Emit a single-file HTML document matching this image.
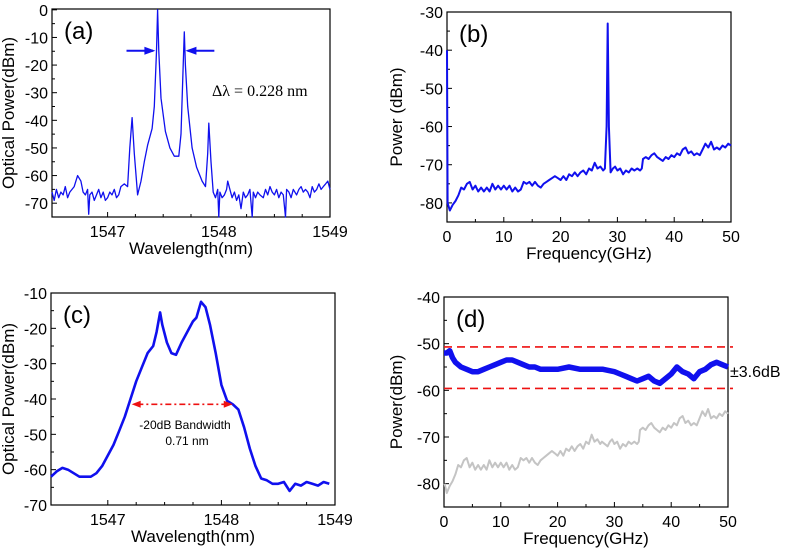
<!DOCTYPE html>
<html><head><meta charset="utf-8"><style>
html,body{margin:0;padding:0;background:#fff;}
svg{display:block;font-family:"Liberation Sans",Arial,sans-serif;}
</style></head><body>
<svg id="fig" width="787" height="550" viewBox="0 0 787 550" xmlns="http://www.w3.org/2000/svg"></svg>
<script>
const aWl=[1546.5,1546.52,1546.54,1546.56,1546.58,1546.6,1546.62,1546.64,1546.66,1546.68,1546.7,1546.73,1546.76,1546.78,1546.8,1546.82,1546.83,1546.84,1546.86,1546.88,1546.9,1546.92,1546.94,1546.96,1546.98,1547.0,1547.02,1547.04,1547.06,1547.08,1547.1,1547.12,1547.15,1547.18,1547.2,1547.22,1547.24,1547.27,1547.3,1547.33,1547.36,1547.4,1547.42,1547.44,1547.45,1547.46,1547.48,1547.52,1547.56,1547.6,1547.64,1547.66,1547.68,1547.69,1547.7,1547.72,1547.76,1547.8,1547.85,1547.88,1547.9,1547.91,1547.93,1547.95,1547.97,1547.99,1548.0,1548.01,1548.03,1548.05,1548.07,1548.08,1548.1,1548.12,1548.14,1548.16,1548.18,1548.2,1548.22,1548.24,1548.26,1548.28,1548.3,1548.31,1548.33,1548.35,1548.37,1548.4,1548.42,1548.44,1548.46,1548.48,1548.5,1548.52,1548.54,1548.56,1548.58,1548.6,1548.61,1548.63,1548.65,1548.67,1548.7,1548.72,1548.74,1548.76,1548.78,1548.8,1548.82,1548.84,1548.86,1548.88,1548.9,1548.92,1548.94,1548.96,1548.98,1549];
const aPow=[-66,-69,-65,-68,-66,-67,-64,-68,-66,-65,-64,-60,-62,-66,-67,-65,-74,-67,-66,-69,-67,-65,-68,-66,-69,-68,-66,-67,-65,-68,-67,-64,-63,-64,-50,-39,-52,-67,-62,-55,-49,-43,-35,-15,0,-15,-32,-44,-50,-53,-53,-45,-20,-8,-20,-35,-50,-57,-62,-64,-52,-41,-55,-66,-68,-65,-75,-66,-68,-67,-65,-62,-65,-68,-66,-69,-67,-72,-66,-68,-67,-65,-75,-66,-68,-66,-67,-68,-65,-67,-64,-66,-67,-65,-68,-66,-67,-75,-65,-66,-68,-65,-67,-65,-64,-66,-65,-66,-68,-64,-66,-65,-63,-65,-64,-63,-62,-65];
const bFreq=[0,0.1,0.5,1,1.5,2,2.5,3,3.5,4,4.5,5,5.5,6,6.5,7,7.5,8,8.5,9,9.5,10,10.5,11,11.5,12,12.5,13,13.5,14,14.5,15,15.5,16,16.5,17,17.5,18,18.5,19,19.5,20,20.5,21,21.5,22,22.5,23,23.5,24,24.5,25,25.5,26,26.5,27,27.5,27.8,28.1,28.3,28.5,28.8,29.2,29.6,30,30.5,31,31.5,32,32.5,33,33.5,34,34.3,34.5,35,35.5,36,36.5,37,37.5,38,38.5,39,39.5,40,40.5,41,41.5,42,42.5,43,43.5,44,44.5,45,45.5,46,46.5,47,47.5,48,48.5,49,49.5,50];
const bPow=[-40,-80,-82,-80.5,-79.5,-78,-76,-76.5,-75,-74.5,-76.5,-75.5,-77,-76,-77,-76,-77,-75,-76.5,-75.5,-76.5,-75.5,-76.5,-75.5,-77,-76,-77,-76.5,-74.5,-75,-74.5,-75.5,-74.5,-75.5,-76,-75,-74.5,-74,-73.5,-73,-73.5,-74,-73,-74,-72.5,-73,-72,-73,-72,-71.5,-72.5,-71,-71.5,-69.5,-71,-70.5,-71.5,-71,-60,-33,-60,-72,-71,-70.5,-71.5,-71,-72.5,-71.5,-72,-71,-71.5,-71,-71.5,-71,-68.5,-68,-68.5,-67.5,-67,-68,-68.5,-69,-68,-68.5,-67.5,-68,-67,-67.5,-66,-65.5,-67,-66.5,-67.5,-67,-67.5,-66,-64.5,-65.5,-64,-66,-65.5,-66,-65,-65.5,-64.5,-65];
const cWl=[1546.5,1546.55,1546.6,1546.65,1546.7,1546.75,1546.8,1546.85,1546.9,1546.95,1547.0,1547.05,1547.1,1547.15,1547.2,1547.25,1547.3,1547.35,1547.4,1547.43,1547.46,1547.48,1547.52,1547.56,1547.6,1547.65,1547.7,1547.75,1547.78,1547.82,1547.86,1547.9,1547.95,1548.0,1548.05,1548.1,1548.15,1548.2,1548.25,1548.3,1548.35,1548.4,1548.45,1548.5,1548.55,1548.6,1548.65,1548.7,1548.75,1548.8,1548.85,1548.9,1548.95];
const cPow=[-62,-60.5,-59.5,-60,-61,-62,-62,-62,-61,-59,-56,-53,-49,-45,-40,-35,-31,-27,-25,-21,-15.5,-19,-24,-27,-27.5,-24,-21,-18,-17,-12.5,-14,-19,-27,-36,-40.5,-41.5,-43,-48,-54,-59,-62.5,-63,-64,-64,-63.5,-66,-64,-64.5,-63.5,-64,-64.5,-63.5,-64];
const dFreq=[0,0.5,1,1.5,2,3,4,5,6,7,8,9,10,11,12,13,14,15,16,17,18,20,22,24,26,28,30,31,32,33,34,35,36,37,38,39,40,41,42,43,44,45,46,47,48,49,50];
const dPow=[-52,-52,-51.5,-53,-54,-55,-55.5,-56,-56,-55.5,-55,-54.5,-54,-53.5,-53.5,-54,-54.5,-55,-55,-55.5,-55.5,-55.5,-55,-55.5,-55.5,-55.5,-56,-56.5,-57,-57.5,-58,-57.5,-57,-58,-58.5,-57.5,-56.5,-55,-56,-56.5,-57.5,-56,-55.5,-54.5,-54,-54.5,-55];
const dGrayFreq=bFreq.filter((f,i)=>i>0&&!(f>27.9&&f<28.7));
const dGrayPow=bPow.filter((p,i)=>i>0&&!(bFreq[i]>27.9&&bFreq[i]<28.7));
const flatBounds=[-50.7,-59.6];
const wlTicks=[1547,1548,1549];
const fTicks=[0,10,20,30,40,50];

const NS="http://www.w3.org/2000/svg";
const fig=document.getElementById('fig');
function mk(tag,attrs,parent,text){const e=document.createElementNS(NS,tag);for(const k in attrs)e.setAttribute(k,attrs[k]);if(text!==undefined)e.textContent=text;(parent||fig).appendChild(e);return e;}

function panel(o){
  const g=mk('g',{});
  
  
  const sx=v=>o.x0+(v-o.xmin)/(o.xmax-o.xmin)*(o.x1-o.x0);
  const sy=v=>o.y0+(o.ymax-v)/(o.ymax-o.ymin)*(o.y1-o.y0);
  o.sx=sx;o.sy=sy;o.g=g;
  for(const t of o.xt){const x=sx(t);const l=mk('line',{x1:x,x2:x,y1:o.y1,y2:o.y1-5,stroke:'#000','stroke-width':1},g);
    
    const tx=mk('text',{x:x,y:o.y1+20,'text-anchor':'middle','font-size':16,fill:'#000'},g,String(t));
    }
  for(const t of o.xminor){const x=sx(t);mk('line',{x1:x,x2:x,y1:o.y1,y2:o.y1-3,stroke:'#000','stroke-width':1},g);}
  for(const t of o.yt){const y=sy(t);const l=mk('line',{x1:o.x0,x2:o.x0+5,y1:y,y2:y,stroke:'#000','stroke-width':1},g);
    
    const tx=mk('text',{x:o.x0-4,y:y+6,'text-anchor':'end','font-size':16,fill:'#000'},g,String(t));
    
    const m=sy(t-5);if(t-5>o.ymin)mk('line',{x1:o.x0,x2:o.x0+3,y1:m,y2:m,stroke:'#000','stroke-width':1},g);}
  const r=mk('rect',{x:o.x0,y:o.y0,width:o.x1-o.x0,height:o.y1-o.y0,fill:'none',stroke:'#000','stroke-width':1.2},g);
  
  const xt=mk('text',{x:(o.x0+o.x1)/2,y:o.y1+37,'text-anchor':'middle','font-size':17,fill:'#000'},g,o.xtitle);
  
  const yc=(o.y0+o.y1)/2;
  const yt=mk('text',{x:o.ytx,y:yc,'text-anchor':'middle','font-size':17,fill:'#000',transform:`rotate(-90 ${o.ytx} ${yc})`},g,o.ytitle);
  
  const pl=mk('text',{x:o.x0+12,y:o.y0+30,'font-size':24,fill:'#000'},g,'('+o.id+')');
  
  return o;
}
function series(o,xs,ys,color,w,name){
  const d=xs.map((v,i)=>(i?'L':'M')+o.sx(v).toFixed(1)+','+o.sy(ys[i]).toFixed(1)).join('');
  const p=mk('path',{d:d,fill:'none',stroke:color,'stroke-width':w,'stroke-linejoin':'round'},o.g);
  
  return p;
}

const A=panel({id:'a',x0:52,x1:330,y0:9,y1:217,xmin:1546.5,xmax:1549,ymin:-75,ymax:0.3,xt:wlTicks,xminor:[1546.5,1547.25,1547.5,1547.75,1548.25,1548.5,1548.75],yt:[0,-10,-20,-30,-40,-50,-60,-70],xtitle:'Wavelength(nm)',ytitle:'Optical Power(dBm)',ytx:14});
series(A,aWl,aPow,'#1010ee',1.3,'spectrum-line');
const ya=A.sy(-14.8);
const la=mk('path',{d:`M${A.sx(1547.17)},${ya}H${A.sx(1547.41)}`,stroke:'#1010ee','stroke-width':2},A.g);

mk('path',{d:`M${A.sx(1547.43)},${ya}l-11,-4v8z`,fill:'#1010ee'},A.g);
const ra=mk('path',{d:`M${A.sx(1547.72)},${ya}H${A.sx(1547.96)}`,stroke:'#1010ee','stroke-width':2},A.g);

mk('path',{d:`M${A.sx(1547.7)},${ya}l11,-4v8z`,fill:'#1010ee'},A.g);
const dl=mk('text',{x:212,y:96,'font-size':16,'font-family':'"Liberation Serif",serif',fill:'#000'},A.g,'Δλ = 0.228 nm');


const B=panel({id:'b',x0:447,x1:731,y0:12,y1:222,xmin:0,xmax:50,ymin:-85,ymax:-30,xt:fTicks,xminor:[5,15,25,35,45],yt:[-30,-40,-50,-60,-70,-80],xtitle:'Frequency(GHz)',ytitle:'Power (dBm)',ytx:402});
series(B,bFreq,bPow,'#1010ee',2,'rf-spectrum-line');

const C=panel({id:'c',x0:51,x1:335,y0:293,y1:505,xmin:1546.5,xmax:1549,ymin:-70,ymax:-10,xt:wlTicks,xminor:[1546.5,1547.25,1547.5,1547.75,1548.25,1548.5,1548.75],yt:[-10,-20,-30,-40,-50,-60,-70],xtitle:'Wavelength(nm)',ytitle:'Optical Power(dBm)',ytx:14});
series(C,cWl,cPow,'#1010ee',2.6,'comb-spectrum-line');
const yc=C.sy(-41.5);
const bw=mk('path',{d:`M${C.sx(1547.26)},${yc}H${C.sx(1548.06)}`,stroke:'#ee1111','stroke-width':1.6,'stroke-dasharray':'6,3,2,3'},C.g);

mk('path',{d:`M${C.sx(1547.21)},${yc}l9,-3.5v7z`,fill:'#ee1111'},C.g);
mk('path',{d:`M${C.sx(1548.1)},${yc}l-9,-3.5v7z`,fill:'#ee1111'},C.g);
const t1=mk('text',{x:185,y:429,'text-anchor':'middle','font-size':12,fill:'#000'},C.g,'-20dB Bandwidth');

const t2=mk('text',{x:187,y:445,'text-anchor':'middle','font-size':12,fill:'#000'},C.g,'0.71 nm');


const D=panel({id:'d',x0:444,x1:728,y0:297,y1:507,xmin:0,xmax:50,ymin:-85,ymax:-40,xt:fTicks,xminor:[5,15,25,35,45],yt:[-40,-50,-60,-70,-80],xtitle:'Frequency(GHz)',ytitle:'Power(dBm)',ytx:402});
series(D,dGrayFreq,dGrayPow,'#c4c4c4',2,'unflattened-line');
series(D,dFreq,dPow,'#1010ee',5.5,'flattened-line');
for(const v of flatBounds){const y=D.sy(v);
  const l=mk('line',{x1:444,x2:733,y1:y,y2:y,stroke:'#ee1111','stroke-width':1.6,'stroke-dasharray':'8,5'},D.g);
  }
const fl=mk('text',{x:730,y:377,'font-size':16,fill:'#000'},D.g,'±3.6dB');

</script>
</body></html>
